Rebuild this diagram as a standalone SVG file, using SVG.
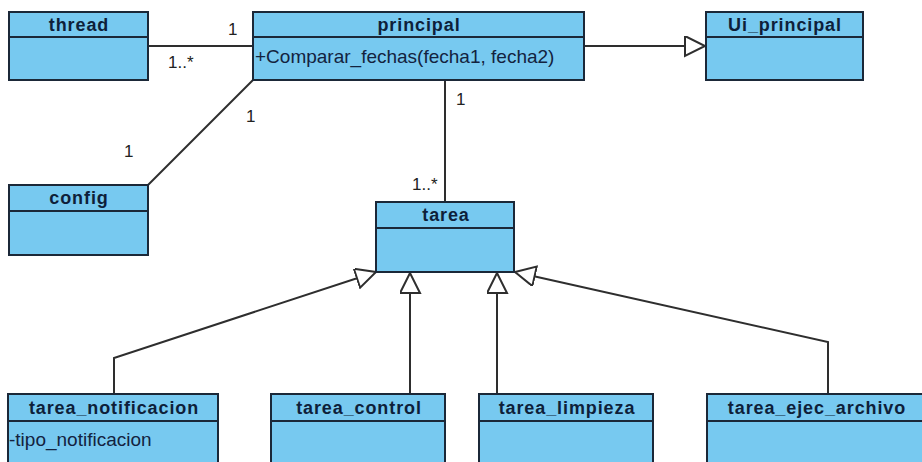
<svg xmlns="http://www.w3.org/2000/svg" width="922" height="462" viewBox="0 0 922 462">
  <style>
    .box { fill: #77C9F0; stroke: #1B2838; stroke-width: 2; }
    .sep { stroke: #1B2838; stroke-width: 2; }
    .name { font-family: "Liberation Sans", Arial, sans-serif; font-size: 18px; font-weight: bold; fill: #0E1F3A; text-anchor: middle; letter-spacing: 0.9px; }
    .member { font-family: "Liberation Sans", Arial, sans-serif; font-size: 19px; fill: #13233F; }
    .mult { font-family: "Liberation Sans", Arial, sans-serif; font-size: 17px; fill: #222; }
    .edge { fill: none; stroke: #2E2E2E; stroke-width: 2; }
    .gen { marker-end: url(#hollow); }
  </style>
  <defs>
    <marker id="hollow" markerUnits="userSpaceOnUse" markerWidth="24" markerHeight="24" refX="21" refY="10" orient="auto">
      <path d="M1,0 L21,10 L1,20 Z" fill="#fff" stroke="#2E2E2E" stroke-width="2"/>
    </marker>
  </defs>
  <rect width="922" height="462" fill="#fff"/>

  <!-- connectors: associations and generalizations -->
  <g id="connectors">
    <line class="edge" x1="148" y1="46" x2="253" y2="46"/>
    <line class="edge" x1="148" y1="185" x2="253" y2="80"/>
    <line class="edge" x1="445" y1="80" x2="445" y2="202"/>
    <line class="edge gen" x1="584" y1="46" x2="705" y2="46"/>
    <polyline class="edge gen" points="114,394 114,358 376,272"/>
    <line class="edge gen" x1="410" y1="394" x2="410" y2="273"/>
    <line class="edge gen" x1="497" y1="394" x2="497" y2="273"/>
    <polyline class="edge gen" points="828,394 828,342 515,272"/>
    <text class="mult" x="228" y="35">1</text>
    <text class="mult" x="168" y="68">1..*</text>
    <text class="mult" x="246" y="122">1</text>
    <text class="mult" x="124" y="157">1</text>
    <text class="mult" x="456" y="105">1</text>
    <text class="mult" x="412" y="190">1..*</text>
  </g>

  <g id="thread">
    <rect class="box" x="9" y="12" width="139" height="68"/>
    <line class="sep" x1="9" y1="37" x2="148" y2="37"/>
    <text class="name" x="79" y="31">thread</text>
  </g>

  <g id="principal">
    <rect class="box" x="253" y="12" width="331" height="68"/>
    <line class="sep" x1="253" y1="37" x2="584" y2="37"/>
    <text class="name" x="419" y="31">principal</text>
    <text class="member" x="255" y="63">+Comparar_fechas(fecha1, fecha2)</text>
  </g>

  <g id="Ui_principal">
    <rect class="box" x="706" y="12" width="157" height="68"/>
    <line class="sep" x1="706" y1="37" x2="863" y2="37"/>
    <text class="name" x="785" y="31">Ui_principal</text>
  </g>

  <g id="config">
    <rect class="box" x="9" y="185" width="139" height="70"/>
    <line class="sep" x1="9" y1="211" x2="148" y2="211"/>
    <text class="name" x="79" y="204">config</text>
  </g>

  <g id="tarea">
    <rect class="box" x="376" y="202" width="138" height="70"/>
    <line class="sep" x1="376" y1="228" x2="514" y2="228"/>
    <text class="name" x="446" y="221">tarea</text>
  </g>

  <g id="tarea_notificacion">
    <rect class="box" x="8" y="394" width="210" height="80"/>
    <line class="sep" x1="8" y1="421" x2="218" y2="421"/>
    <text class="name" x="114" y="414">tarea_notificacion</text>
    <text class="member" x="9" y="446">-tipo_notificacion</text>
  </g>

  <g id="tarea_control">
    <rect class="box" x="271" y="394" width="174" height="80"/>
    <line class="sep" x1="271" y1="421" x2="445" y2="421"/>
    <text class="name" x="359" y="414">tarea_control</text>
  </g>

  <g id="tarea_limpieza">
    <rect class="box" x="479" y="394" width="174" height="80"/>
    <line class="sep" x1="479" y1="421" x2="653" y2="421"/>
    <text class="name" x="567" y="414">tarea_limpieza</text>
  </g>

  <g id="tarea_ejec_archivo">
    <rect class="box" x="707" y="394" width="219" height="80"/>
    <line class="sep" x1="707" y1="421" x2="926" y2="421"/>
    <text class="name" x="817" y="414">tarea_ejec_archivo</text>
  </g>
</svg>
